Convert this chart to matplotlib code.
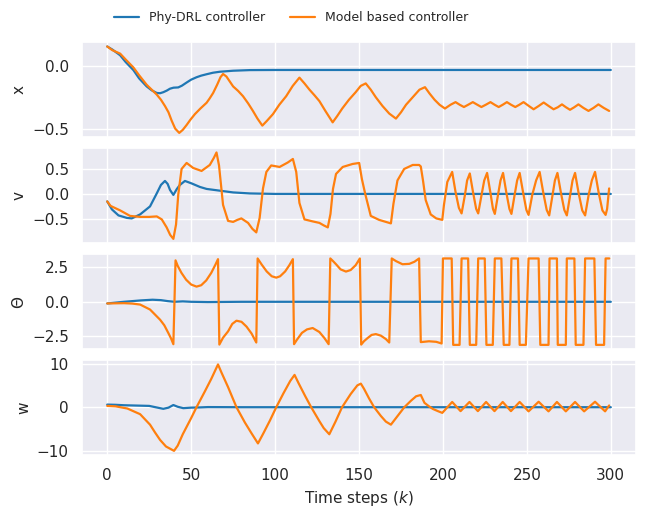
import matplotlib
matplotlib.use('Agg')
import matplotlib.pyplot as plt
import seaborn as sns

# ---- data: (time step k, value) ----
# position x
x_drl = [(0, 0.154), (3, 0.13), (7.7, 0.084), (11, 0.03), (15.6, -0.034), (19, -0.10),
         (23.5, -0.164), (26.5, -0.195), (29.5, -0.216), (31.5, -0.218), (33.4, -0.21),
         (35.5, -0.197), (37.4, -0.182), (39.5, -0.174), (42.3, -0.172), (44.5, -0.158),
         (47.3, -0.133), (50, -0.11), (53.2, -0.091), (56, -0.078), (59.2, -0.067), (63, -0.055),
         (67.1, -0.047), (75, -0.039), (85, -0.034), (100, -0.033), (200, -0.033), (300, -0.033)]

x_mb = [(0, 0.154), (3, 0.125), (7.7, 0.097), (11, 0.05), (15.6, -0.013), (19, -0.075),
        (23.5, -0.151), (26.5, -0.19), (29.5, -0.229), (32, -0.27), (34.4, -0.32), (36.5, -0.37),
        (38.4, -0.437), (40.5, -0.5), (42.9, -0.534), (45, -0.51), (47.3, -0.471), (49.5, -0.43),
        (52.2, -0.385), (55.5, -0.34), (59.2, -0.294), (61, -0.26), (63.1, -0.216), (65.5, -0.15),
        (67.5, -0.09), (69, -0.065), (71, -0.085), (75, -0.164), (78, -0.2), (80.9, -0.242),
        (84, -0.3), (86.8, -0.359), (89.5, -0.42), (92.4, -0.476), (95, -0.44), (98.7, -0.385),
        (102.5, -0.31), (106.6, -0.242), (110.5, -0.16), (114.5, -0.094), (117.5, -0.14),
        (120.5, -0.19), (123.5, -0.235), (126.4, -0.281), (130, -0.36), (134.3, -0.45),
        (137, -0.40), (140, -0.34), (144, -0.27), (148, -0.21), (151, -0.16), (154, -0.14),
        (157, -0.19), (160, -0.25), (164, -0.32), (168, -0.38), (172, -0.42), (175, -0.37),
        (178, -0.31), (182, -0.25), (186, -0.19), (189.3, -0.17), (192, -0.22), (195, -0.27),
        (198, -0.31), (201.2, -0.34), (204.5, -0.31), (207.5, -0.289), (210, -0.31),
        (212.5, -0.328), (215, -0.31), (217.8, -0.289), (220.5, -0.31), (222.9, -0.328),
        (225.5, -0.31), (228.3, -0.289), (230.8, -0.31), (233.2, -0.328), (235.6, -0.31),
        (238.1, -0.289), (240.6, -0.31), (243.1, -0.328), (245.5, -0.31), (248, -0.289),
        (251, -0.318), (254, -0.346), (257, -0.32), (260, -0.292), (263, -0.32), (265.9, -0.346),
        (268.4, -0.33), (270.9, -0.307), (273.3, -0.33), (275.7, -0.35), (278.2, -0.33),
        (280.7, -0.307), (283.7, -0.335), (286.7, -0.359), (289.7, -0.335), (292.6, -0.307),
        (295.8, -0.335), (299, -0.359)]

# velocity v
v_drl = [(0, -0.15), (2.8, -0.31), (6.7, -0.43), (11.7, -0.48), (14.6, -0.49), (19.6, -0.41),
         (25.5, -0.25), (27.5, -0.12), (29.5, 0.01), (32, 0.18), (34.4, 0.26), (36, 0.2),
         (37.4, 0.08), (39.4, -0.02), (41.5, 0.1), (43.3, 0.18), (46.3, 0.26), (50.3, 0.21),
         (55.2, 0.14), (59.2, 0.1), (67.1, 0.065), (75, 0.03), (84.9, 0.01), (100, 0.0),
         (200, 0.0), (300, 0.0)]

v_mb = [(0, -0.15), (2, -0.24), (7.7, -0.33), (13.6, -0.44), (19.6, -0.46), (25, -0.46),
        (29.5, -0.45), (32.5, -0.51), (35.4, -0.67), (37.5, -0.82), (39.4, -0.9), (41, -0.61),
        (42.3, -0.02), (44.3, 0.5), (47.3, 0.62), (51.2, 0.52), (56.2, 0.46), (61.1, 0.58),
        (63.5, 0.72), (65.1, 0.83), (66.6, 0.57), (69, -0.22), (72, -0.54), (75, -0.56),
        (77.5, -0.52), (79.9, -0.49), (83.9, -0.58), (86.5, -0.7), (88.8, -0.77), (90.8, -0.48),
        (92.8, 0.11), (94.8, 0.44), (97.7, 0.57), (102.7, 0.54), (107.6, 0.63), (110.6, 0.7),
        (112.6, 0.44), (114.5, -0.18), (117.5, -0.51), (122.4, -0.55), (126.4, -0.58),
        (129, -0.63), (131.4, -0.67), (133, -0.4), (134.5, 0.1), (136.3, 0.4), (140.3, 0.54),
        (146.2, 0.6), (150.1, 0.62), (151.7, 0.3), (153.7, 0.0), (157, -0.44), (162, -0.52),
        (169, -0.59), (170.5, -0.2), (172.9, 0.27), (176.9, 0.5), (182, 0.58), (185.8, 0.58),
        (186.8, 0.55), (188.2, 0.25), (189.7, -0.12), (192.7, -0.41), (196, -0.49),
        (199.6, -0.52), (200.6, -0.22), (202.6, 0.24), (205.5, 0.44), (207.5, 0.04),
        (209.5, -0.28), (211.1, -0.39), (213.1, -0.02), (214.4, 0.27), (216, 0.41), (218, 0.02),
        (219.8, -0.30), (221, -0.39), (223, -0.02), (224.6, 0.27), (226.3, 0.42), (228.3, 0.02),
        (229.8, -0.30), (230.9, -0.40), (232.8, -0.02), (234.3, 0.27), (235.8, 0.42),
        (237.8, 0.02), (239.6, -0.30), (240.8, -0.40), (242.7, -0.02), (244.2, 0.27),
        (245.7, 0.42), (247.8, 0.02), (249.7, -0.32), (251, -0.42), (253.2, -0.02), (255.5, 0.27),
        (257.6, 0.44), (259.8, 0.02), (261.8, -0.32), (263.3, -0.43), (265.3, -0.02),
        (266.7, 0.27), (268.2, 0.42), (270.3, 0.02), (272.3, -0.32), (273.8, -0.43),
        (275.8, -0.02), (277.2, 0.27), (278.7, 0.42), (280.8, 0.02), (283, -0.33), (284.7, -0.43),
        (286.8, -0.02), (288.7, 0.27), (290.6, 0.44), (292.8, 0.02), (295, -0.33), (296.9, -0.42),
        (297.8, -0.3), (299, 0.11)]

# angle Theta (wraps at +/- pi)
t_drl = [(0, -0.12), (5, -0.06), (10, 0.0), (15, 0.05), (20, 0.1), (27, 0.15), (32, 0.12),
         (36, 0.05), (40, 0.0), (45, 0.03), (50, 0.0), (60, -0.02), (80, 0.0), (200, 0.0),
         (300, 0.0)]

t_mb = [(0, -0.12), (10, -0.1), (15, -0.13), (19.6, -0.2), (25.5, -0.56), (31.5, -1.3),
        (34, -1.7), (36.4, -2.26), (38, -2.65), (39.4, -3.07), (40.7, 3.0), (42, 2.6), (44.2, 2.1),
        (47, 1.6), (50, 1.25), (53.2, 1.1), (56, 1.2), (59, 1.55), (62, 2.1), (64.5, 2.7),
        (66, 3.09), (66.8, -3.1), (69, -2.6), (72, -2.14), (74.5, -1.6), (77, -1.37), (80, -1.45),
        (83, -1.8), (86, -2.3), (88.8, -2.95), (89.6, 3.14), (92, 2.7), (95, 2.2), (98, 1.85),
        (100.7, 1.75), (103, 1.85), (106, 2.2), (108.5, 2.65), (110.6, 3.09), (111.3, -3.07),
        (113, -2.75), (116, -2.25), (119, -2.0), (122.4, -1.9), (126.4, -2.19), (129.4, -2.63),
        (131.9, -3.07), (132.9, 3.14), (134.5, 2.95), (136.3, 2.72), (139, 2.35), (142.2, 2.19),
        (145, 2.3), (148, 2.65), (150.5, 3.14), (151.3, -3.1), (153, -2.85), (155.1, -2.63),
        (157.5, -2.4), (160, -2.34), (163, -2.45), (166, -2.7), (168, -2.95), (169.5, 3.14),
        (172, 2.95), (175.9, 2.72), (180, 2.75), (183, 2.9), (185.8, 3.14), (186.8, -2.92),
        (191.7, -2.86), (196, -2.9), (199.2, -3.02), (200, 3.14), (205.2, 3.14), (206.1, -3.12),
        (209.9, -3.12), (211.1, 3.14), (215, 3.14), (216, -3.12), (219.8, -3.12), (221, 3.14),
        (224.9, 3.14), (225.9, -3.12), (229.7, -3.12), (230.9, 3.14), (234.8, 3.14),
        (236.2, -3.12), (239.6, -3.12), (240.8, 3.14), (244.7, 3.14), (245.7, -3.12),
        (249.4, -3.12), (251, 3.14), (257, 3.14), (258, -3.12), (262.9, -3.12), (263.5, 3.14),
        (267.9, 3.14), (268.4, -3.12), (273.2, -3.12), (273.8, 3.14), (278.3, 3.14),
        (279.1, -3.12), (283.7, -3.12), (284.7, 3.14), (290.2, 3.14), (291.2, -3.12),
        (296, -3.12), (296.9, 3.14), (299.1, 3.14)]

# angular velocity w
w_drl = [(0, 0.6), (5, 0.55), (10, 0.45), (20, 0.35), (25, 0.3), (30, -0.1), (33.4, -0.37),
         (36.5, -0.1), (39.4, 0.5), (42, 0.1), (45.3, -0.22), (50, -0.1), (55, -0.05), (60, 0.03),
         (80, 0.0), (200, 0.0), (300, 0.0)]

w_mb = [(0, 0.3), (5, 0.2), (12, -0.3), (19.6, -1.6), (25.5, -4.0), (28.5, -5.8), (31.5, -7.5),
        (35, -9.0), (39.8, -10.0), (42, -8.8), (45, -6.2), (50, -2.5), (53.2, 0.0), (58, 3.5),
        (62, 6.5), (66, 9.8), (68, 8.0), (72, 4.6), (77, 0.0), (82, -3.5), (86, -6.0),
        (89.8, -8.3), (93, -6.0), (97, -3.0), (100.7, 0.0), (105, 3.2), (109, 6.0), (111.6, 7.4),
        (114, 5.5), (118, 2.5), (121.5, 0.0), (126.4, -3.2), (129, -4.8), (132.3, -6.2),
        (136, -3.3), (139.9, 0.0), (145, 3.0), (149, 5.0), (151.1, 5.4), (153, 4.2), (156, 2.0),
        (159, 0.0), (163, -2.0), (166, -3.3), (169, -4.0), (172, -2.5), (177, 0.0), (181, 1.5),
        (184, 2.5), (186.8, 2.8), (189, 1.0), (191.7, 0.2), (194, -0.4), (197, -0.9),
        (199.6, -1.3), (205.5, 1.2), (210.5, -0.9), (215.8, 1.2), (220.8, -0.9), (225.7, 1.2),
        (230.7, -0.9), (235.6, 1.2), (240.5, -0.9), (245.7, 1.2), (251, -0.95), (257, 1.25),
        (262.9, -0.95), (267.9, 1.2), (273.2, -0.95), (278.7, 1.2), (284.1, -0.95), (290.6, 1.25),
        (296.6, -0.95), (299, 0.4)]

ylabels = ['x', 'v', 'Θ', 'w']
yticks = [[-0.5, 0.0], [-0.5, 0.0, 0.5], [-2.5, 0.0, 2.5], [-10, 0, 10]]
drl_series = [x_drl, v_drl, t_drl, w_drl]
mb_series = [x_mb, v_mb, t_mb, w_mb]

sns.set_theme(style='darkgrid')
plt.rcParams['font.family'] = ['DejaVu Sans']

fig, axes = plt.subplots(4, 1, sharex=True, figsize=(6.46, 5.08), dpi=100)
fig.subplots_adjust(left=0.127, right=0.9845, top=0.917, bottom=0.104, hspace=0.115)

for ax, drl, mb, lab, yt in zip(axes, drl_series, mb_series, ylabels, yticks):
    kb, yb = zip(*drl)
    ko, yo = zip(*mb)
    l1, = ax.plot(kb, yb, color='#1f77b4', lw=1.6)
    l2, = ax.plot(ko, yo, color='#ff7f0e', lw=1.6)
    ax.set_ylabel(lab, fontsize=11)
    ax.set_yticks(yt)
    ax.tick_params(labelsize=11)

axes[-1].set_xlim(-15, 315)
axes[-1].set_xticks([0, 50, 100, 150, 200, 250, 300])
axes[-1].set_xlabel('Time steps ($k$)', fontsize=11)

fig.legend([l1, l2], ['Phy-DRL controller', 'Model based controller'], loc='upper center',
           bbox_to_anchor=(0.45, 1.0), ncol=2, frameon=False, fontsize=9)

fig.savefig('out.png', dpi=100)
